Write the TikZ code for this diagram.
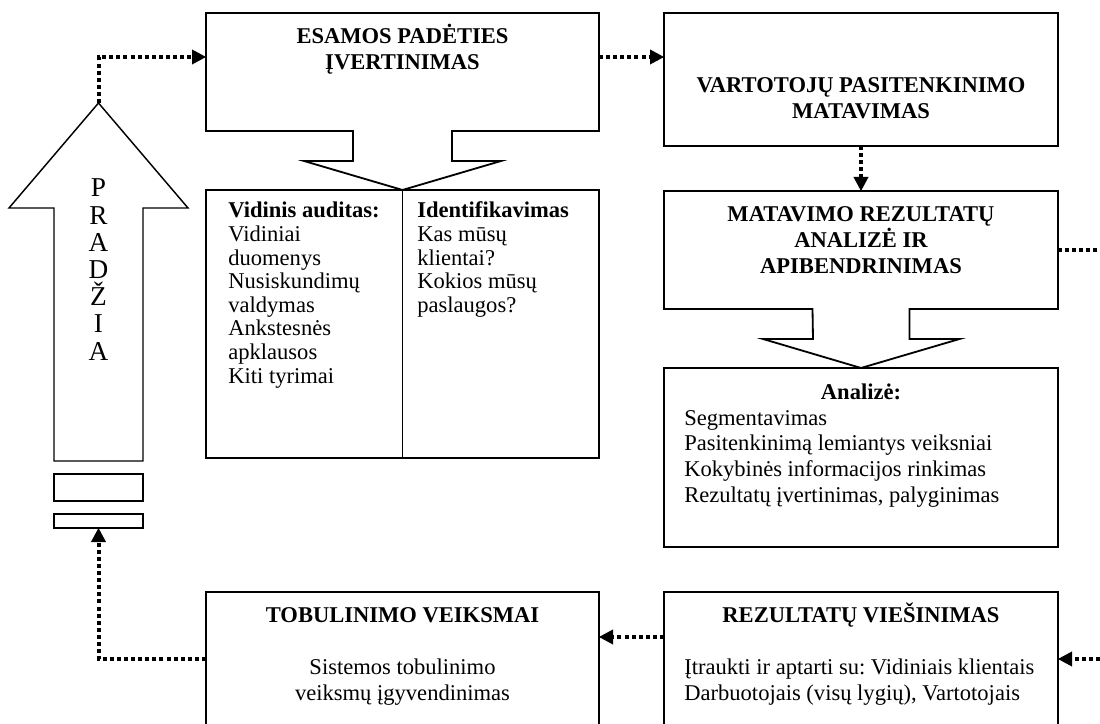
\documentclass[tikz,border=0pt]{standalone}
\usepackage{fontspec}
\setmainfont{Liberation Serif}
\usetikzlibrary{arrows.meta,calc}

\begin{document}
\frenchspacing
\begin{tikzpicture}[x=0.55pt,y=-0.55pt,
  every node/.style={font=\fontsize{12.4pt}{14pt}\selectfont},
  wh/.style 2 args={minimum width=#1*0.55pt,minimum height=#2*0.55pt,inner sep=0pt,outer sep=0pt},
  box/.style={draw,line width=1pt},
  frame/.style={draw=none},
  outline/.style={line width=1pt,line join=miter},
  divider/.style={line width=0.6pt},
  flowline/.style={line width=2.2pt,dash pattern=on 2.2pt off 1.7pt},
  flow/.style={flowline,-{Triangle[length=7.7pt,width=8.3pt,line width=0pt]}},
  txt/.style={inner sep=0pt,anchor=base},
  txtw/.style={inner sep=0pt,anchor=base west},
  ttl/.style={txt,font=\fontsize{12.4pt}{14pt}\selectfont\bfseries},
  big/.style={txt,font=\fontsize{15pt}{17pt}\selectfont}]

\useasboundingbox (0,0) rectangle (1100,724);
\fill[white] (0,0) rectangle (1100,724);
\clip (0,0) rectangle (1100,724);

% --- boxes -------------------------------------------------------------
\node[frame,wh={393}{118}] (esamos)  at (402.5,72)  {};
\node[box,wh={394}{133}]   (vart)    at (861,79.5)  {};
\node[box,wh={393}{268}]   (split)   at (402.5,324) {};
\node[frame,wh={394}{118}] (matav)   at (861,250)   {};
\node[box,wh={394}{179}]   (analize) at (861,457.5) {};
\node[box,wh={393}{168}]   (tobul)   at (402.5,676) {};
\node[box,wh={394}{168}]   (rezult)  at (861,676)   {};
\node[box,wh={89}{27}]     (rect1)   at (98.5,487.5) {};
\node[box,wh={89}{14}]     (rect2)   at (98.5,521)  {};

% callout outlines: box with a pointer opening downwards
\draw[outline] (esamos.south west) -- (esamos.north west) -- (esamos.north east)
  -- (esamos.south east) -- ($(esamos.south)+(49.5,0)$) -- ++(0,30) -- ++(49,0)
  -- ($(esamos.south)+(0,59)$) -- ++(-98.5,-29) -- ++(49,0)
  -- ($(esamos.south)+(-49.5,0)$) -- cycle;
\draw[outline] (matav.south west) -- (matav.north west) -- (matav.north east)
  -- (matav.south east) -- ($(matav.south)+(48.5,0)$) -- ++(0,30) -- ++(50,0)
  -- ($(matav.south)+(0,59)$) -- ++(-98,-29) -- ++(50,0)
  -- ($(matav.south)+(-48.5,0)$) -- cycle;

\draw[divider] (split.north) -- (split.south);

% --- start arrow ---------------------------------------------------------
\coordinate (ptip) at (98.5,103);
\draw[outline,line width=0.8pt] (ptip) -- (188,208) -- (143,208) -- (143,461)
  -- (54,461) -- (54,208) -- (9,208) -- cycle;
\foreach \ch [count=\k from 0] in {P,R,A,D,Ž,I,A}
  \node[big] (pl\k) at (98.5,197+27.17*\k) {\ch};

% --- texts ----------------------------------------------------------------
\node[ttl] (t1a) at (402.5,44) {ESAMOS PADĖTIES};
\node[ttl] (t1b) at (402.5,69.5) {ĮVERTINIMAS};

\node[ttl] (t2a) at (861,93)  {VARTOTOJŲ PASITENKINIMO};
\node[ttl] (t2b) at (861,119) {MATAVIMAS};

\node[ttl] (t3a) at (861,222) {MATAVIMO REZULTATŲ};
\node[ttl] (t3b) at (861,248) {ANALIZĖ IR};
\node[ttl] (t3c) at (861,274) {APIBENDRINIMAS};

\node[txtw,font=\fontsize{12.4pt}{14pt}\selectfont\bfseries] (l0) at (228,218) {Vidinis auditas:};
\node[txtw] (l1) at (228,241.6) {Vidiniai};
\node[txtw] (l2) at (228,265.2) {duomenys};
\node[txtw] (l3) at (228,288.8) {Nusiskundimų};
\node[txtw] (l4) at (228,312.4) {valdymas};
\node[txtw] (l5) at (228,336)   {Ankstesnės};
\node[txtw] (l6) at (228,359.6) {apklausos};
\node[txtw] (l7) at (228,383.2) {Kiti tyrimai};

\node[txtw,font=\fontsize{12.4pt}{14pt}\selectfont\bfseries] (r0) at (417,218) {Identifikavimas};
\node[txtw] (r1) at (417,241.6) {Kas mūsų};
\node[txtw] (r2) at (417,265.2) {klientai?};
\node[txtw] (r3) at (417,288.8) {Kokios mūsų};
\node[txtw] (r4) at (417,312.4) {paslaugos?};

\node[ttl] (a0) at (861,400) {Analizė:};
\node[txtw] (a1) at (684,425.5) {Segmentavimas};
\node[txtw] (a2) at (684,451)   {Pasitenkinimą lemiantys veiksniai};
\node[txtw] (a3) at (684,476.5) {Kokybinės informacijos rinkimas};
\node[txtw] (a4) at (684,502)   {Rezultatų įvertinimas, palyginimas};

\node[ttl] (b0) at (402.5,622) {TOBULINIMO VEIKSMAI};
\node[txt] (b1) at (402.5,674.5) {Sistemos tobulinimo};
\node[txt] (b2) at (402.5,700.5) {veiksmų įgyvendinimas};

\node[ttl]  (c0) at (861,622) {REZULTATŲ VIEŠINIMAS};
\node[txtw] (c1) at (684,674.5) {Įtraukti ir aptarti su: Vidiniais klientais};
\node[txtw] (c2) at (684,700.5) {Darbuotojais (visų lygių), Vartotojais};

% --- dotted connectors --------------------------------------------------
\coordinate (ein) at ($(esamos.north west)+(0,44)$);
\draw[flow] (ptip) |- (ein);
\draw[flow] ($(esamos.north east)+(0,44)$) -- ($(vart.north west)+(0,44)$);
\draw[flow] (vart.south) -- (matav.north);
\coordinate (mout) at (1100,250);
\draw[flowline] (matav.east) -- (mout);
\coordinate (rin) at (1100,659);
\draw[flow] (rin) -- (rin -| rezult.east);
\draw[flow] ($(rezult.north west)+(0,45)$) -- ($(tobul.north east)+(0,45)$);
\draw[flow] ($(tobul.north west)+(0,67)$) -| (rect2.south);
\end{tikzpicture}
\end{document}
